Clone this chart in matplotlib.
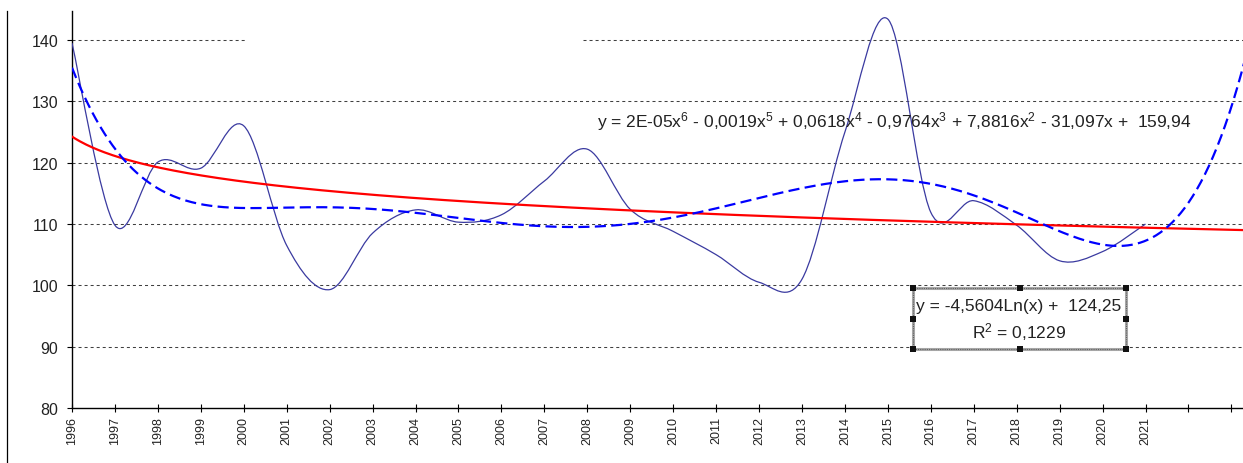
import numpy as np
import matplotlib
matplotlib.use('Agg')
import matplotlib.pyplot as plt
from matplotlib.path import Path
from matplotlib.patches import PathPatch, Rectangle
from matplotlib.lines import Line2D

# ---------------- data ----------------
years = list(range(1996, 2022))
values = [139.5, 109.8, 120.1, 119.1, 126.0, 106.5, 99.3, 108.5, 112.3, 110.3,
          111.5, 117.0, 122.2, 112.4, 108.8, 105.0, 100.5, 101.0, 125.0, 143.4,
          111.9, 113.8, 109.8, 104.0, 105.5, 110.0]
tick_labels = [str(y) for y in years] + ['', '']
y_ticks = [80, 90, 100, 110, 120, 130, 140]
log_coef = [-4.5604, 124.25]          # y = a*ln(x) + b (as printed)
poly_degree = 6
poly_text = ("y = 2E-05x$^{6}$ - 0,0019x$^{5}$ + 0,0618x$^{4}$ - 0,9764x$^{3}$"
             " + 7,8816x$^{2}$ - 31,097x +  159,94")
log_text = "y = -4,5604Ln(x) +  124,25"
r2_text = "R$^{2}$ = 0,1229"

# ---------------- style ----------------
plt.rcParams['font.family'] = ['Liberation Sans', 'DejaVu Sans']
plt.rcParams['mathtext.fontset'] = 'custom'
plt.rcParams['mathtext.rm'] = 'Liberation Sans'
plt.rcParams['mathtext.it'] = 'Liberation Sans'
plt.rcParams['mathtext.default'] = 'regular'

W, H = 1243, 464
fig = plt.figure(figsize=(W / 100, H / 100), dpi=100)
fig.patch.set_facecolor('white')

def fx(px):
    return px / W

def fy(py):
    return 1 - py / H

ax_left, ax_right, ax_top, ax_bottom = 72, 1243, 12, 409
ax = fig.add_axes([fx(ax_left), fy(ax_bottom), fx(ax_right - ax_left), (ax_bottom - ax_top) / H])
ax.set_facecolor('white')

step = 42.94  # px per category
x_right = 1 + (ax_right - ax_left) / step
y_top = 80 + (ax_bottom - ax_top) / ((409 - 41) / 60)
ax.set_xlim(1, x_right)
ax.set_ylim(80, y_top)

# gridlines
grid_kw = dict(color='#404040', lw=0.75, ls=(0, (2.9, 2.9)), zorder=1)
for v in y_ticks[1:]:
    if v == 140:
        ax.axhline(v, xmin=0, xmax=(245 - ax_left) / (ax_right - ax_left), **grid_kw)
        ax.axhline(v, xmin=(583 - ax_left) / (ax_right - ax_left), xmax=1, **grid_kw)
    else:
        ax.axhline(v, **grid_kw)

# smoothed series (Bezier through the points)
xs = np.arange(1, len(values) + 1, dtype=float)
pts = np.column_stack([xs, values])
verts = [pts[0]]
codes = [Path.MOVETO]
for i in range(len(pts) - 1):
    p0 = pts[i - 1] if i > 0 else pts[i]
    p1 = pts[i]
    p2 = pts[i + 1]
    p3 = pts[i + 2] if i + 2 < len(pts) else pts[i + 1]
    c1 = p1 + (p2 - p0) / 6.0
    c2 = p2 - (p3 - p1) / 6.0
    verts += [c1, c2, p2]
    codes += [Path.CURVE4] * 3
ax.add_patch(PathPatch(Path(verts, codes), facecolor='none', edgecolor='#3a3aa0',
                       lw=0.9, zorder=3))

# trendlines
xt = np.linspace(1, x_right + 1, 600)
coef = np.polyfit(xs, values, poly_degree)
ax.plot(xt, np.polyval(coef, xt), color='#0000ff', lw=1.6, ls=(0, (5.0, 2.4)), zorder=5)
ax.plot(xt, log_coef[0] * np.log(xt) + log_coef[1], color='#ff0000', lw=1.6, zorder=4)

# axes
for s in ['top', 'right']:
    ax.spines[s].set_visible(False)
ax.spines['left'].set_linewidth(1.0)
ax.spines['bottom'].set_linewidth(1.0)
ax.set_xticks(np.arange(1, len(tick_labels) + 1))
ax.set_xticklabels(tick_labels, rotation=90, fontsize=9, color='#222222')
ax.set_yticks(y_ticks)
ax.set_yticklabels([str(v) for v in y_ticks], fontsize=11.5, color='#222222')
ax.tick_params(axis='x', direction='inout', length=6, width=0.8, pad=3)
ax.tick_params(axis='y', direction='out', length=3.8, width=0.8, pad=6)

# equation of polynomial trend
fig.text(fx(597), fy(122), poly_text, fontsize=12.5, color='#222222', va='center', ha='left')

# log trend label box
bx0, by0, bx1, by1 = 913, 289, 1126, 350
fig.patches.append(Rectangle((fx(bx0), fy(by1)), fx(bx1 - bx0), (by1 - by0) / H,
                             transform=fig.transFigure, facecolor='white',
                             edgecolor='#a8a8a8', lw=2.2, zorder=6))
fig.patches.append(Rectangle((fx(bx0), fy(by1)), fx(bx1 - bx0), (by1 - by0) / H,
                             transform=fig.transFigure, facecolor='none',
                             edgecolor='#606060', lw=0.8, ls=(0, (1, 1)), zorder=7))
hs = 6
for hx in [bx0, (bx0 + bx1) / 2, bx1]:
    for hy in [by0, (by0 + by1) / 2, by1]:
        if hx == (bx0 + bx1) / 2 and hy == (by0 + by1) / 2:
            continue
        fig.patches.append(Rectangle((fx(hx - hs / 2), fy(hy + hs / 2)), hs / W, hs / H,
                                     transform=fig.transFigure, facecolor='#111111',
                                     edgecolor='none', zorder=8))
fig.text(fx(1019), fy(307), log_text, fontsize=12.5, color='#222222', ha='center', va='center', zorder=9)
fig.text(fx(1019), fy(332), r2_text, fontsize=12.5, color='#222222', ha='center', va='center', zorder=9)

# far-left border line
fig.add_artist(Line2D([fx(7), fx(7)], [fy(12), fy(464)], transform=fig.transFigure,
                      color='black', lw=0.9))

fig.savefig('out.png', dpi=100, facecolor='white')
